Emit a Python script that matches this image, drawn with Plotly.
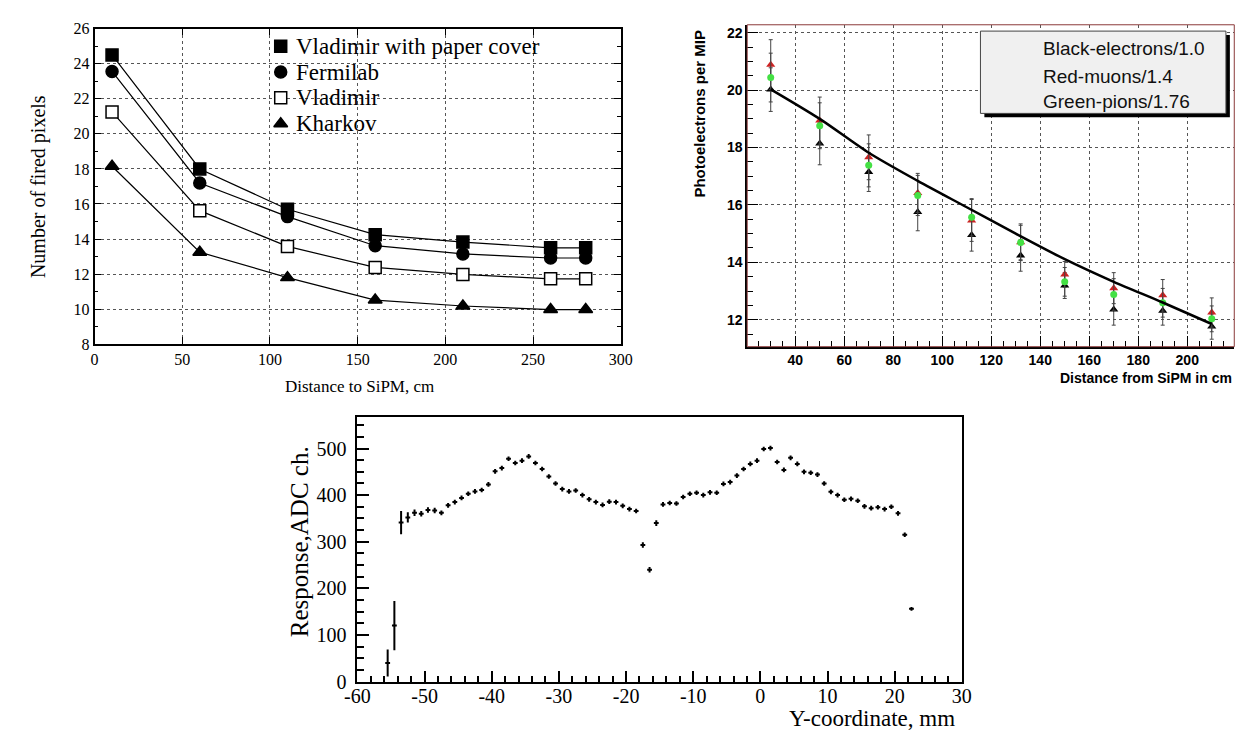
import plotly.graph_objects as go

W, H = 1252, 731

# ---------------- Panel 1 (top-left) data ----------------
dist1 = [10, 60, 110, 160, 210, 260, 280]
vlad_paper = [24.5, 18.0, 15.7, 14.25, 13.83, 13.5, 13.5]
fermilab = [23.56, 17.2, 15.28, 13.62, 13.15, 12.92, 12.92]
vladimir = [21.25, 15.62, 13.58, 12.38, 11.98, 11.73, 11.73]
kharkov = [18.15, 13.25, 11.8, 10.52, 10.18, 9.98, 9.98]
legend1 = ["Vladimir with paper cover", "Fermilab", "Vladimir", "Kharkov"]

# ---------------- Panel 2 (top-right) data ----------------
dist2 = [30, 50, 70, 90, 112, 132, 150, 170, 190, 210]
electrons = [20.02, 18.14, 17.15, 15.75, 14.95, 14.24, 13.19, 12.36, 12.31, 11.76]
electrons_err = [0.76, 0.74, 0.68, 0.65, 0.56, 0.55, 0.45, 0.55, 0.5, 0.44]
muons = [20.89, 18.94, 17.66, 16.42, 15.46, 14.7, 13.58, 13.1, 12.85, 12.25]
muons_err = [0.87, 0.82, 0.78, 0.68, 0.73, 0.64, 0.45, 0.54, 0.55, 0.51]
pions = [20.44, 18.76, 17.38, 16.33, 15.57, 14.69, 13.32, 12.88, 12.59, 12.03]
pions_err = [0.85, 0.8, 0.75, 0.7, 0.65, 0.6, 0.5, 0.55, 0.5, 0.45]
fit_x = [30, 50, 70, 90, 110, 130, 150, 170, 190, 210]
fit_y = [20.03, 19.0, 17.82, 16.84, 15.92, 15.0, 14.11, 13.32, 12.6, 11.85]
legend2 = ["Black-electrons/1.0", "Red-muons/1.4", "Green-pions/1.76"]

# ---------------- Panel 3 (bottom) data ----------------
ycoord = [-55.5, -54.5, -53.5, -52.5, -51.5, -50.5, -49.5, -48.5, -47.5, -46.5,
          -45.5, -44.5, -43.5, -42.5, -41.5, -40.5, -39.5, -38.5, -37.5, -36.5,
          -35.5, -34.5, -33.5, -32.5, -31.5, -30.5, -29.5, -28.5, -27.5, -26.5,
          -25.5, -24.5, -23.5, -22.5, -21.5, -20.5, -19.5, -18.5, -17.5, -16.5,
          -15.5, -14.5, -13.5, -12.5, -11.5, -10.5, -9.5, -8.5, -7.5, -6.5,
          -5.5, -4.5, -3.5, -2.5, -1.5, -0.5, 0.5, 1.5, 2.5, 3.5,
          4.5, 5.5, 6.5, 7.5, 8.5, 9.5, 10.5, 11.5, 12.5, 13.5,
          14.5, 15.5, 16.5, 17.5, 18.5, 19.5, 20.5, 21.5, 22.5]
response = [40, 120, 341, 352, 362, 360, 368, 367, 362, 378,
            385, 394, 403, 408, 411, 423, 451, 458, 478, 469,
            474, 483, 469, 456, 440, 425, 413, 408, 410, 400,
            391, 385, 379, 386, 385, 377, 370, 366, 293, 240,
            340, 380, 383, 382, 396, 403, 405, 400, 406, 405,
            424, 428, 442, 456, 467, 474, 499, 501, 471, 454,
            480, 467, 450, 448, 444, 425, 407, 400, 390, 392,
            388, 376, 372, 374, 370, 375, 361, 315, 156]
response_err = [29, 53, 25, 11, 7, 6, 6, 6, 5, 5,
                5, 5, 5, 5, 5, 5, 5, 5, 5, 5,
                5, 5, 5, 5, 5, 5, 5, 5, 5, 5,
                5, 5, 5, 5, 5, 5, 5, 5, 6, 6,
                6, 5, 5, 5, 5, 5, 5, 5, 5, 5,
                5, 5, 5, 5, 5, 5, 5, 5, 5, 5,
                5, 5, 5, 5, 5, 5, 5, 5, 5, 5,
                5, 5, 5, 5, 5, 5, 5, 5, 4]
xticks3 = [-60, -50, -40, -30, -20, -10, 0, 10, 20, 30]
yticks3 = [0, 100, 200, 300, 400, 500]


def fx(px):
    return px / W


def fy(py):
    return 1 - py / H


SERIF = "Liberation Serif, Times New Roman, serif"
SANS = "Liberation Sans, Arial, sans-serif"

# pixel boxes of the three frames
P1 = dict(l=75, r=612, t=13, b=337)
P2 = dict(l=741, r=1238, t=9, b=339.5)
P3 = dict(l=343.3, r=960, t=412, b=683.3)

fig = go.Figure()

# ---------------- Panel 1 traces ----------------
styles1 = [
    (vlad_paper, "square", "black", 12),
    (fermilab, "circle", "black", 12),
    (vladimir, "square", "white", 12),
    (kharkov, "triangle-up", "black", 12),
]
for vals, sym, fill, sz in styles1:
    fig.add_trace(go.Scatter(
        x=dist1, y=vals, mode="lines+markers", xaxis="x", yaxis="y",
        line=dict(color="black", width=1.2),
        marker=dict(symbol=sym, size=sz, color=fill, line=dict(color="black", width=1.5)),
        showlegend=False, cliponaxis=False, hoverinfo="skip"))

# legend markers of panel 1 (overlay axis 0..1)
leg_rows_px = [31, 57.5, 84, 110.5]
leg_marker_px = 265
for (vals, sym, fill, sz), rowpx, label in zip(styles1, leg_rows_px, legend1):
    fig.add_trace(go.Scatter(
        x=[(leg_marker_px - P1["l"]) / (P1["r"] - P1["l"])],
        y=[(P1["b"] - rowpx) / (P1["b"] - P1["t"])],
        mode="markers", xaxis="x4", yaxis="y4",
        marker=dict(symbol=sym, size=sz, color=fill, line=dict(color="black", width=1.5)),
        showlegend=False, hoverinfo="skip"))
    fig.add_annotation(x=fx(leg_marker_px + 14), y=fy(rowpx), xref="paper", yref="paper",
                       text=label, showarrow=False, xanchor="left", yanchor="middle",
                       font=dict(family=SERIF, size=23, color="black"))

# ---------------- Panel 2 traces ----------------
for vals, errs, sym, col, sz in [
    (electrons, electrons_err, "triangle-up", "black", 8),
    (muons, muons_err, "triangle-up", "#cc2222", 8),
    (pions, pions_err, "circle", "#44e044", 7),
]:
    fig.add_trace(go.Scatter(
        x=dist2, y=vals, mode="markers", xaxis="x2", yaxis="y2",
        marker=dict(symbol=sym, size=sz, color=col),
        error_y=dict(type="data", array=errs, color="#444444", thickness=1, width=2),
        showlegend=False, hoverinfo="skip"))

fig.add_trace(go.Scatter(
    x=fit_x, y=fit_y, mode="lines", xaxis="x2", yaxis="y2",
    line=dict(color="black", width=2.5, shape="spline", smoothing=0.8),
    showlegend=False, hoverinfo="skip"))

# ---------------- Panel 3 traces ----------------
fig.add_trace(go.Scatter(
    x=ycoord, y=response, mode="markers", xaxis="x3", yaxis="y3",
    marker=dict(size=2, color="black"),
    error_y=dict(type="data", array=response_err, color="black", thickness=2, width=0),
    error_x=dict(type="constant", value=0.36, color="black", thickness=2, width=0),
    showlegend=False, hoverinfo="skip"))

# ---------------- Layout ----------------
grid_common = dict(showgrid=True, gridcolor="#555555", griddash="dot", gridwidth=1, zeroline=False)

layout = dict(
    width=W, height=H, autosize=False,
    margin=dict(l=0, r=0, t=0, b=0),
    paper_bgcolor="white", plot_bgcolor="rgba(0,0,0,0)",
    showlegend=False,
    # panel 1
    xaxis=dict(domain=[fx(P1["l"]), fx(P1["r"])], range=[0, 300], dtick=50, tick0=0,
               ticks="inside", ticklen=7, tickcolor="black", mirror="ticks",
               showline=True, linecolor="black", linewidth=1.5,
               tickfont=dict(family=SERIF, size=16, color="black"),
               **grid_common, anchor="y"),
    yaxis=dict(domain=[fy(P1["b"]), fy(P1["t"])], range=[8, 26], dtick=2, tick0=0,
               ticks="inside", ticklen=7, tickcolor="black", mirror="ticks",
               showline=True, linecolor="black", linewidth=1.5,
               minor=dict(dtick=1, ticks="inside", ticklen=4, tickcolor="black", showgrid=False),
               tickfont=dict(family=SERIF, size=16, color="black"),
               **grid_common, anchor="x"),
    # legend overlay for panel 1
    xaxis4=dict(range=[0, 1], visible=False, overlaying="x", anchor="y4"),
    yaxis4=dict(range=[0, 1], visible=False, overlaying="y", anchor="x4"),
    # panel 2
    xaxis2=dict(domain=[fx(P2["l"]), fx(P2["r"])], range=[20.4, 219.2], dtick=20, tick0=0,
                ticks="inside", ticklen=11, tickcolor="black", tickwidth=1,
                showline=True, linecolor="black", linewidth=1.5,
                minor=dict(dtick=5, tick0=0, ticks="inside", ticklen=6, tickcolor="black", showgrid=False),
                tickfont=dict(family=SANS, size=14, color="black", weight="bold"),
                **grid_common, anchor="y2"),
    yaxis2=dict(domain=[fy(P2["b"]), fy(P2["t"])], range=[11.06, 22.28], dtick=2, tick0=0,
                ticks="inside", ticklen=11, tickcolor="black", tickwidth=1,
                showline=True, linecolor="black", linewidth=1.5,
                minor=dict(dtick=0.5, tick0=0, ticks="inside", ticklen=6, tickcolor="black", showgrid=False),
                tickfont=dict(family=SANS, size=14, color="black", weight="bold"),
                **grid_common, anchor="x2"),
    # panel 3
    xaxis3=dict(domain=[fx(P3["l"]), fx(P3["r"])], range=[-60, 30],
                tickmode="array", tickvals=xticks3, ticktext=[str(v) for v in xticks3],
                ticks="inside", ticklen=11, tickwidth=1.5, tickcolor="black",
                minor=dict(dtick=2, tick0=0, ticks="inside", ticklen=6, tickwidth=1.5, tickcolor="black", showgrid=False),
                showline=True, linecolor="black", linewidth=2, mirror=True,
                showgrid=False, zeroline=False, ticklabelstandoff=-5,
                tickfont=dict(family=SERIF, size=20, color="black"), anchor="y3"),
    yaxis3=dict(domain=[fy(P3["b"]), fy(P3["t"])], range=[0, 567],
                tickmode="array", tickvals=yticks3, ticktext=[str(v) for v in yticks3],
                ticks="inside", ticklen=12, tickwidth=1.5, tickcolor="black",
                minor=dict(dtick=25, tick0=0, ticks="inside", ticklen=7, tickwidth=1.5, tickcolor="black", showgrid=False),
                showline=True, linecolor="black", linewidth=2, mirror=True,
                showgrid=False, zeroline=False, ticklabelstandoff=5,
                tickfont=dict(family=SERIF, size=20, color="black"), anchor="x3"),
)
fig.update_layout(**layout)

# ---------------- Panel 2 frame, legend box ----------------
shapes = [
    dict(type="rect", xref="paper", yref="paper", x0=fx(P2["l"]), x1=fx(P2["r"]),
         y0=fy(P2["b"]), y1=fy(P2["t"]), line=dict(color="#8b3a3a", width=1), layer="above"),
    dict(type="rect", xref="paper", yref="paper", x0=fx(983), x1=fx(1233.5),
         y0=fy(104), y1=fy(19.5), line=dict(width=0), fillcolor="black", layer="above"),
    dict(type="rect", xref="paper", yref="paper", x0=fx(979), x1=fx(1229.5),
         y0=fy(100), y1=fy(15.5), line=dict(color="#444444", width=1), fillcolor="#f0f0f0", layer="above"),
]
fig.update_layout(shapes=shapes)

for label, rowpx in zip(legend2, [33.3, 61.7, 87.7]):
    fig.add_annotation(x=fx(1041), y=fy(rowpx), xref="paper", yref="paper", text=label,
                       showarrow=False, xanchor="left", yanchor="middle",
                       font=dict(family=SANS, size=19, color="#111111"))

# ---------------- axis titles ----------------
def title(text, xpx, ypx, font, angle=0, xanchor="center"):
    fig.add_annotation(x=fx(xpx), y=fy(ypx), xref="paper", yref="paper", text=text,
                       textangle=angle, showarrow=False, xanchor=xanchor, yanchor="middle",
                       font=font)


title("Number of fired pixels", 18, 175, dict(family=SERIF, size=20, color="black"), -90)
title("Distance to SiPM, cm", 345, 380, dict(family=SERIF, size=17, color="black"))
title("Photoelectrons per MIP", 692, 100, dict(family=SANS, size=15, color="black", weight="bold"), -90)
title("Distance from SiPM in cm", 1238, 372, dict(family=SANS, size=14, color="black", weight="bold"),
      xanchor="right")
title("Response,ADC ch.", 285, 540, dict(family=SERIF, size=25, color="black"), -90)
title("Y-coordinate, mm", 955, 721, dict(family=SERIF, size=23, color="black"), xanchor="right")

fig.write_html("out.html")
